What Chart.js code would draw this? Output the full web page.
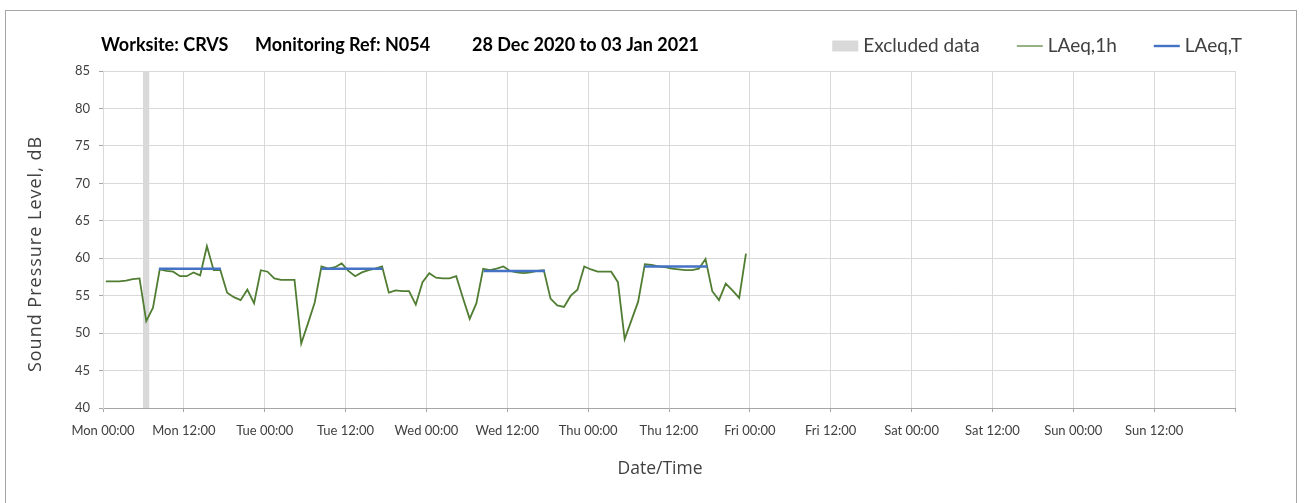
<!DOCTYPE html>
<html>
<head>
<meta charset="utf-8">
<script src="https://cdn.jsdelivr.net/npm/chart.js@4"></script>
<style>
  html, body { margin: 0; padding: 0; background: #fff; }
</style>
</head>
<body>
<canvas id="noise" width="1304" height="503"></canvas>
<script>
(() => {
  // x axis: hours since Mon 00:00, labelled every 12 h
  const tickLabels = ['Mon 00:00', 'Mon 12:00', 'Tue 00:00', 'Tue 12:00', 'Wed 00:00', 'Wed 12:00',
    'Thu 00:00', 'Thu 12:00', 'Fri 00:00', 'Fri 12:00', 'Sat 00:00', 'Sat 12:00', 'Sun 00:00', 'Sun 12:00', ''];

  // hourly LAeq,1h readings, first one plotted at ~00:25 on Monday
  const firstReadingHour = 0.42;
  const lAeq1h = [
    56.9, 56.9, 56.9, 57.0, 57.2, 57.3, 51.6, 53.4, 58.5, 58.3, 58.2, 57.6, 57.6, 58.1, 57.7, 61.6, 58.4, 58.4, 55.4, 54.8, 54.4, 55.8, 54.0, 58.4,
    58.2, 57.3, 57.1, 57.1, 57.1, 48.6, 51.3, 54.1, 58.9, 58.6, 58.8, 59.3, 58.3, 57.6, 58.1, 58.4, 58.6, 58.9, 55.4, 55.7, 55.6, 55.6, 53.8, 56.8,
    58.0, 57.4, 57.3, 57.3, 57.6, 54.7, 51.9, 54.0, 58.6, 58.4, 58.6, 58.9, 58.3, 58.1, 58.0, 58.1, 58.3, 58.4, 54.6, 53.7, 53.5, 55.0, 55.8, 58.9,
    58.5, 58.2, 58.2, 58.2, 56.8, 49.2, 51.7, 54.2, 59.2, 59.1, 58.9, 58.8, 58.6, 58.5, 58.4, 58.4, 58.6, 59.9, 55.6, 54.4, 56.6, 55.7, 54.7, 60.6
  ];

  // LAeq,T over each daytime period
  const periodStart = [8.3, 32.4, 56.5, 80.4];
  const periodEnd = [17.5, 41.5, 65.6, 89.7];
  const lAeqT = [58.6, 58.6, 58.3, 58.9];

  // excluded data window (hours)
  const excludedFrom = [5.9];
  const excludedTo = [6.9];

  const yMin = 40;
  const yMax = 85;

  const titleParts = ['Worksite: CRVS', 'Monitoring Ref: N054', '28 Dec 2020 to 03 Jan 2021'];

  const hourlyPoints = lAeq1h.map((v, i) => ({ x: firstReadingHour + i, y: v }));

  let periodPoints = [];
  lAeqT.forEach((v, i) => {
    periodPoints.push({ x: periodStart[i], y: v });
    periodPoints.push({ x: periodEnd[i], y: v });
    periodPoints.push({ x: periodEnd[i], y: null });
  });

  let bandPoints = [];
  excludedFrom.forEach((from, i) => {
    bandPoints.push({ x: from, y: yMax });
    bandPoints.push({ x: excludedTo[i], y: yMax });
  });

  const tickFont = { family: 'Lato', size: 13 };

  const decor = {
    id: 'decor',
    afterDraw(chart) {
      const ctx = chart.ctx;
      ctx.save();

      // outer frame
      ctx.strokeStyle = '#a6a6a6';
      ctx.lineWidth = 1;
      ctx.strokeRect(5.5, 10.5, 1291, 600);

      // title
      ctx.fillStyle = '#000';
      ctx.font = 'bold 18px Lato';
      ctx.textBaseline = 'middle';
      ctx.textAlign = 'left';
      const titleX = [101, 255, 472];
      titleParts.forEach((t, i) => ctx.fillText(t, titleX[i], 45));

      // axis titles
      ctx.fillStyle = '#404040';
      ctx.font = '17.5px "Open Sans"';
      ctx.textAlign = 'center';
      ctx.fillText('Date/Time', 660, 469);
      ctx.save();
      ctx.translate(36, 254);
      ctx.rotate(-Math.PI / 2);
      ctx.font = '18px "Open Sans"';
      ctx.letterSpacing = '1px';
      ctx.fillText('Sound Pressure Level, dB', 0, 0);
      ctx.restore();

      // legend, right aligned
      ctx.font = '19px Lato';
      ctx.textAlign = 'left';
      const sets = chart.data.datasets;
      const markW = 26, gapText = 5, gapItem = 37;
      const widths = sets.map((d) => markW + gapText + ctx.measureText(d.label).width);
      let x = 1242 - widths.reduce((a, b) => a + b, 0) - gapItem * (sets.length - 1);
      const ly = 46;
      sets.forEach((d, i) => {
        if (d.fill) {
          ctx.fillStyle = d.backgroundColor;
          ctx.fillRect(x, ly - 5.5, markW, 11);
        } else {
          ctx.strokeStyle = d.borderColor;
          ctx.lineWidth = d.legendWidth;
          ctx.beginPath();
          ctx.moveTo(x, ly);
          ctx.lineTo(x + markW, ly);
          ctx.stroke();
        }
        ctx.fillStyle = '#404040';
        ctx.fillText(d.label, x + markW + gapText, ly);
        x += widths[i] + gapItem;
      });

      ctx.restore();
    }
  };

  const graph = document.getElementById('noise');

  const noiseChart = new Chart(graph, {
    type: 'line',
    data: {
      datasets: [{
        label: 'Excluded data',
        data: bandPoints,
        fill: 'start',
        backgroundColor: '#d9d9d9',
        borderWidth: 0,
        pointRadius: 0,
        order: 3
      }, {
        label: 'LAeq,1h',
        data: hourlyPoints,
        borderColor: '#507d32',
        borderWidth: 1.8,
        legendWidth: 1.2,
        fill: false,
        pointRadius: 0,
        order: 2
      }, {
        label: 'LAeq,T',
        data: periodPoints,
        borderColor: '#4472c4',
        borderWidth: 2.6,
        legendWidth: 2.4,
        fill: false,
        pointRadius: 0,
        spanGaps: false,
        order: 1
      }]
    },
    options: {
      responsive: false,
      animation: false,
      devicePixelRatio: 1,
      layout: { padding: { left: 0, right: 69, top: 71, bottom: 0 } },
      plugins: {
        legend: { display: false },
        tooltip: { enabled: false }
      },
      scales: {
        x: {
          type: 'linear',
          min: 0,
          max: 168,
          ticks: {
            stepSize: 12,
            autoSkip: false,
            maxRotation: 0,
            padding: 11,
            color: '#404040',
            font: tickFont,
            callback: (v) => tickLabels[Math.round(v / 12)]
          },
          grid: { color: '#d9d9d9', tickColor: '#a6a6a6', tickLength: 4 },
          border: { color: '#a6a6a6' },
          afterFit: (s) => { s.height = 95; }
        },
        y: {
          min: yMin,
          max: yMax,
          ticks: { stepSize: 5, padding: 9, color: '#404040', font: tickFont },
          grid: { color: '#d9d9d9', tickColor: '#a6a6a6', tickLength: 4 },
          border: { color: '#d9d9d9' },
          afterFit: (s) => { s.width = 103; }
        }
      }
    },
    plugins: [decor]
  });
})();
</script>
</body>
</html>
